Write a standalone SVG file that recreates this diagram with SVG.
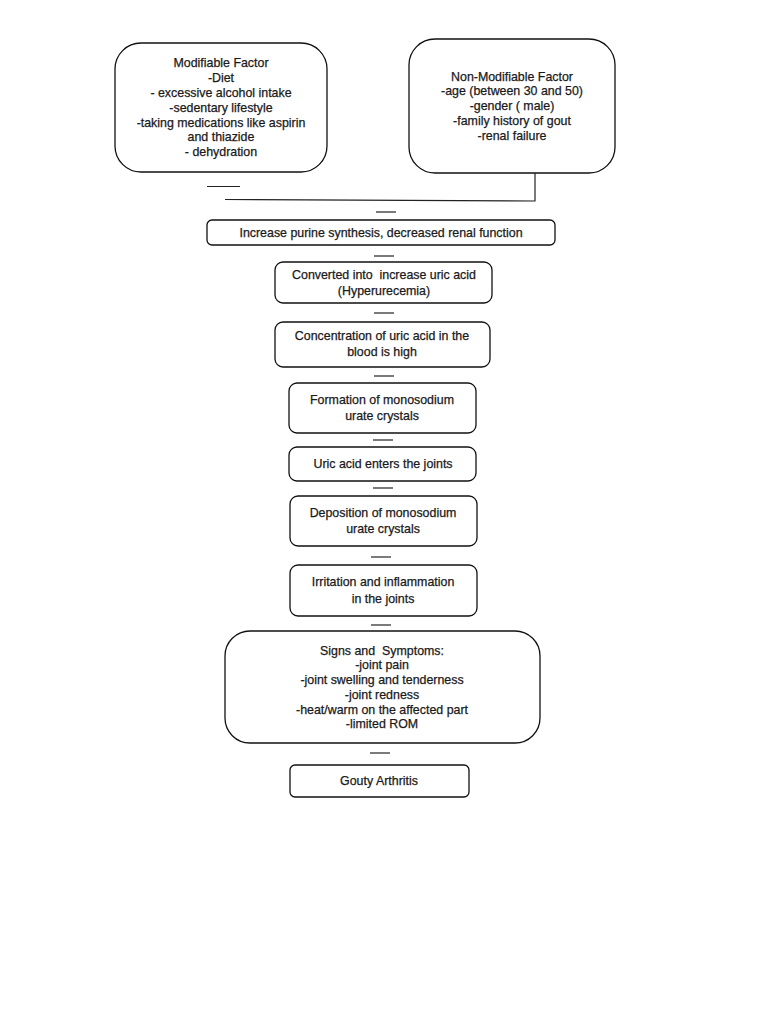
<svg xmlns="http://www.w3.org/2000/svg" width="768" height="1024" viewBox="0 0 768 1024">
<style>
.box{fill:#fff;stroke:#111;stroke-width:1.3}
.t{font-family:"Liberation Sans",Arial,sans-serif;font-size:12.4px;fill:#1a1a1a;stroke:#1a1a1a;stroke-width:0.25;text-anchor:middle}
.c{stroke:#222;stroke-width:1.2;fill:none}
</style>
<rect width="768" height="1024" fill="#fff"/>
<g id="modifiable">
<rect class="box" x="115" y="43" width="212" height="129" rx="26"/>
<text class="t" x="221" y="67">Modifiable Factor</text>
<text class="t" x="221" y="82">-Diet</text>
<text class="t" x="221" y="97">- excessive alcohol intake</text>
<text class="t" x="221" y="112">-sedentary lifestyle</text>
<text class="t" x="221" y="127">-taking medications like aspirin</text>
<text class="t" x="221" y="141">and thiazide</text>
<text class="t" x="221" y="156">- dehydration</text>
</g>
<g id="nonmodifiable">
<rect class="box" x="409" y="39" width="206" height="134" rx="26"/>
<text class="t" x="512" y="81">Non-Modifiable Factor</text>
<text class="t" x="512" y="95">-age (between 30 and 50)</text>
<text class="t" x="512" y="110">-gender ( male)</text>
<text class="t" x="512" y="125">-family history of gout</text>
<text class="t" x="512" y="140">-renal failure</text>
</g>
<g id="purine">
<rect class="box" x="207" y="220" width="348" height="25" rx="5"/>
<text class="t" x="381" y="237">Increase purine synthesis, decreased renal function</text>
</g>
<g id="uricacid">
<rect class="box" x="275" y="262" width="217" height="41" rx="8"/>
<text class="t" x="384" y="279" xml:space="preserve">Converted into  increase uric acid</text>
<text class="t" x="384" y="295">(Hyperurecemia)</text>
</g>
<g id="concentration">
<rect class="box" x="275" y="322" width="215" height="45" rx="8"/>
<text class="t" x="382" y="340">Concentration of uric acid in the</text>
<text class="t" x="382" y="356">blood is high</text>
</g>
<g id="formation">
<rect class="box" x="289" y="383" width="187" height="50" rx="8"/>
<text class="t" x="382" y="404">Formation of monosodium</text>
<text class="t" x="382" y="420">urate crystals</text>
</g>
<g id="enters">
<rect class="box" x="289" y="447" width="187" height="34" rx="8"/>
<text class="t" x="383" y="468">Uric acid enters the joints</text>
</g>
<g id="deposition">
<rect class="box" x="290" y="496" width="187" height="50" rx="8"/>
<text class="t" x="383" y="517">Deposition of monosodium</text>
<text class="t" x="383" y="533">urate crystals</text>
</g>
<g id="irritation">
<rect class="box" x="290" y="565" width="187" height="51" rx="8"/>
<text class="t" x="383" y="586">Irritation and inflammation</text>
<text class="t" x="383" y="603">in the joints</text>
</g>
<g id="signs">
<rect class="box" x="225" y="631" width="315" height="112" rx="25"/>
<text class="t" x="382" y="655" xml:space="preserve">Signs and  Symptoms:</text>
<text class="t" x="382" y="669">-joint pain</text>
<text class="t" x="382" y="684">-joint swelling and tenderness</text>
<text class="t" x="382" y="699">-joint redness</text>
<text class="t" x="382" y="714">-heat/warm on the affected part</text>
<text class="t" x="382" y="728">-limited ROM</text>
</g>
<g id="gouty">
<rect class="box" x="290" y="765" width="179" height="32" rx="5"/>
<text class="t" x="379" y="785">Gouty Arthritis</text>
</g>
<g id="connectors">
<line class="c" x1="207" y1="186.5" x2="240" y2="186.5"/>
<polyline class="c" points="225,199.5 535,201 535,173"/>
<line class="c" x1="376" y1="212" x2="396" y2="212"/>
<line class="c" x1="374" y1="256" x2="394" y2="256"/>
<line class="c" x1="374" y1="313" x2="394" y2="313"/>
<line class="c" x1="374" y1="376" x2="394" y2="376"/>
<line class="c" x1="373" y1="440" x2="393" y2="440"/>
<line class="c" x1="373" y1="488" x2="393" y2="488"/>
<line class="c" x1="371" y1="557" x2="391" y2="557"/>
<line class="c" x1="371" y1="625" x2="391" y2="625"/>
<line class="c" x1="370" y1="753" x2="390" y2="753"/>
</g>
</svg>
